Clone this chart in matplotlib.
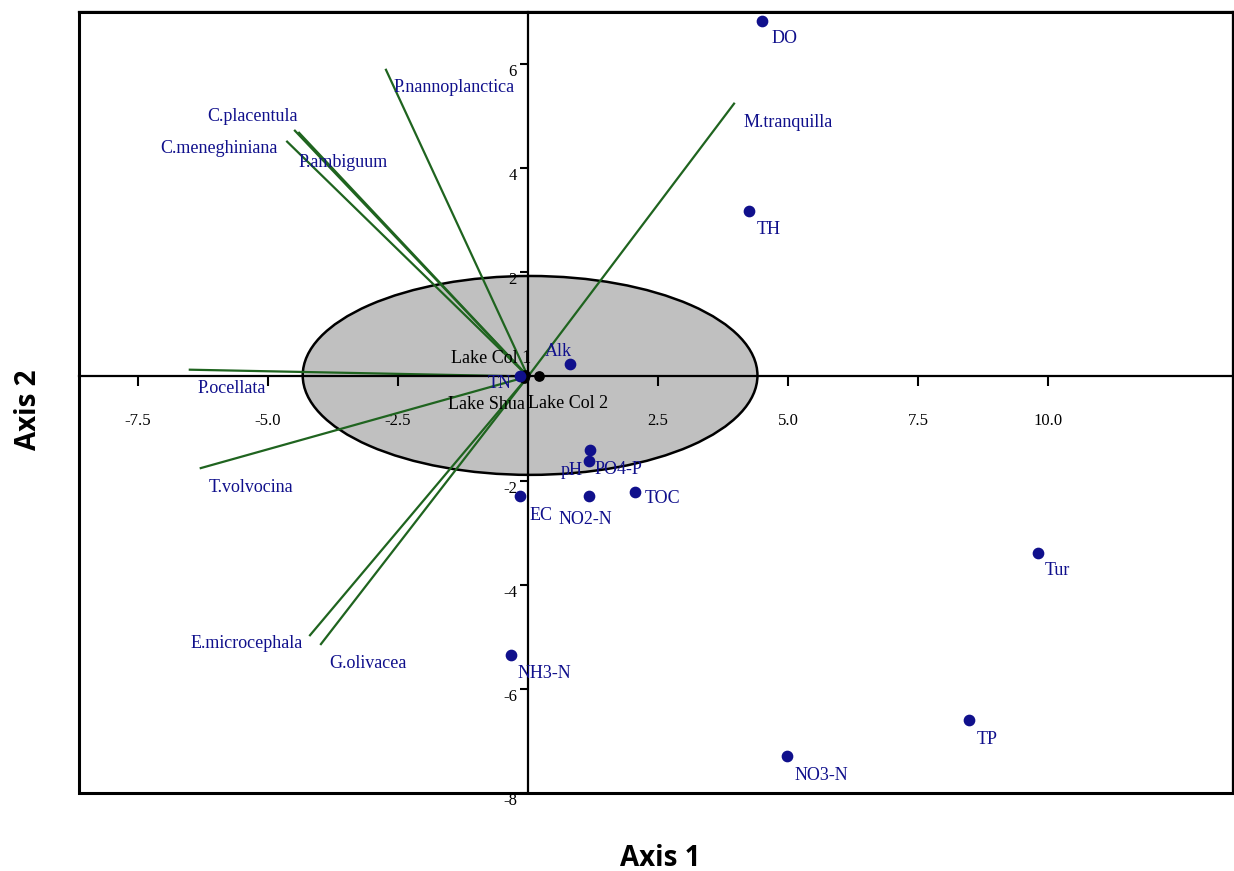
import matplotlib.pyplot as plt
from matplotlib.patches import Ellipse, Rectangle

plt.rcParams["axes.unicode_minus"] = False

# species vectors (end points of the green lines)
species = ["P.nannoplanctica", "C.placentula", "P.ambiguum", "C.meneghiniana",
           "M.tranquilla", "P.ocellata", "T.volvocina", "E.microcephala", "G.olivacea"]
species_x = [-2.73, -4.48, -4.40, -4.63, 3.96, -6.50, -6.29, -4.19, -3.98]
species_y = [5.89, 4.72, 4.68, 4.51, 5.24, 0.13, -1.76, -4.97, -5.14]

# environmental variables (blue points)
env = ["DO", "TH", "Alk", "TN", "PO4-P", "pH", "EC", "NO2-N", "TOC",
       "Tur", "NH3-N", "NO3-N", "TP"]
env_x = [4.50, 4.25, 0.81, -0.15, 1.19, 1.17, -0.15, 1.17, 2.06,
         9.81, -0.33, 4.98, 8.48]
env_y = [6.83, 3.17, 0.23, 0.00, -1.41, -1.63, -2.29, -2.29, -2.22,
         -3.40, -5.35, -7.28, -6.60]

# sites (black points)
sites = ["Lake Col 1", "Lake Shua", "Lake Col 2"]
site_x = [-0.05, -0.08, 0.21]
site_y = [0.03, -0.02, 0.00]

xticks = [-7.5, -5.0, -2.5, 2.5, 5.0, 7.5, 10.0]
yticks = [6, 4, 2, -2, -4, -6, -8]

# label placement (offset in pixels, horizontal alignment)
species_off = [(8, -18, "left"), (3, 14, "right"), (-1, -30, "left"), (-9, -7, "right"),
               (9, -19, "left"), (8, -19, "left"), (8, -19, "left"), (-7, -8, "right"),
               (8, -19, "left")]
env_off = [(9, -18, "left"), (8, -18, "left"), (2, 13, "right"), (-9, -7, "right"),
           (5, -20, "left"), (-6, -9, "right"), (9, -20, "left"), (-4, -24, "center"),
           (9, -6, "left"), (6, -17, "left"), (7, -18, "left"), (7, -20, "left"),
           (7, -19, "left")]
site_off = [(-34, 16, "center"), (-37, -27, "center"), (29, -27, "center")]

green = "#1f641f"
navy = "#10108c"
lab_font = "Liberation Serif"

fig = plt.figure(figsize=(12.34, 8.71), dpi=100)
ax = fig.add_axes([79/1234, 1-793/871, (1233-79)/1234, (793-12)/871])
ax.set_xlim(-8.63, 13.55)
ax.set_ylim(-8.0, 7.0)

# confidence ellipse
ax.add_patch(Ellipse((0.04, 0.02), 8.74, 3.82, fc="#c0c0c0", ec="black", lw=1.8, zorder=1))

# species vectors
for x, y in zip(species_x, species_y):
  ax.plot([0, x], [0, y], color=green, lw=1.6, zorder=2)
for name, x, y, (dx, dy, ha) in zip(species, species_x, species_y, species_off):
  ax.annotate(name, (x, y), xytext=(dx, dy), textcoords="offset pixels",
              ha=ha, va="center", color=navy, fontsize=13, family=lab_font, zorder=5)

# sites
ax.scatter(site_x, site_y, s=45, color="black", zorder=4)
for name, x, y, (dx, dy, ha) in zip(sites, site_x, site_y, site_off):
  ax.annotate(name, (x, y), xytext=(dx, dy), textcoords="offset pixels",
              ha=ha, va="center", color="black", fontsize=13, family=lab_font, zorder=5)

# environmental variables
ax.scatter(env_x, env_y, s=55, color=navy, zorder=4)
for name, x, y, (dx, dy, ha) in zip(env, env_x, env_y, env_off):
  ax.annotate(name, (x, y), xytext=(dx, dy), textcoords="offset pixels",
              ha=ha, va="center", color=navy, fontsize=13, family=lab_font, zorder=5)

# axes through the origin
ax.spines["left"].set_position(("data", 0))
ax.spines["bottom"].set_position(("data", 0))
for s in ax.spines.values():
  s.set_linewidth(1.6)
ax.add_patch(Rectangle((0, 0), 1, 1, transform=ax.transAxes, fill=False,
                       ec="black", lw=2.2, clip_on=False, zorder=6))

ax.set_xticks(xticks)
ax.set_xticklabels([f"{t:.1f}" for t in xticks])
ax.set_yticks(yticks)
ax.set_yticklabels([str(t) for t in yticks])
ax.tick_params(axis="x", direction="out", length=7, width=1.5, pad=19, labelsize=12)
ax.tick_params(axis="y", direction="out", length=6, width=1.5, pad=2, labelsize=12)
for lbl in ax.get_xticklabels() + ax.get_yticklabels():
  lbl.set_family(lab_font)
for lbl in ax.get_yticklabels():
  lbl.set_va("top")

fig.text(660/1234, 1-858/871, "Axis 1", ha="center", va="center",
         fontsize=20, fontweight="bold", family="Open Sans")
fig.text(28/1234, 1-410/871, "Axis 2", ha="center", va="center", rotation=90,
         fontsize=20, fontweight="bold", family="Open Sans")

fig.savefig("out.png", dpi=100)
